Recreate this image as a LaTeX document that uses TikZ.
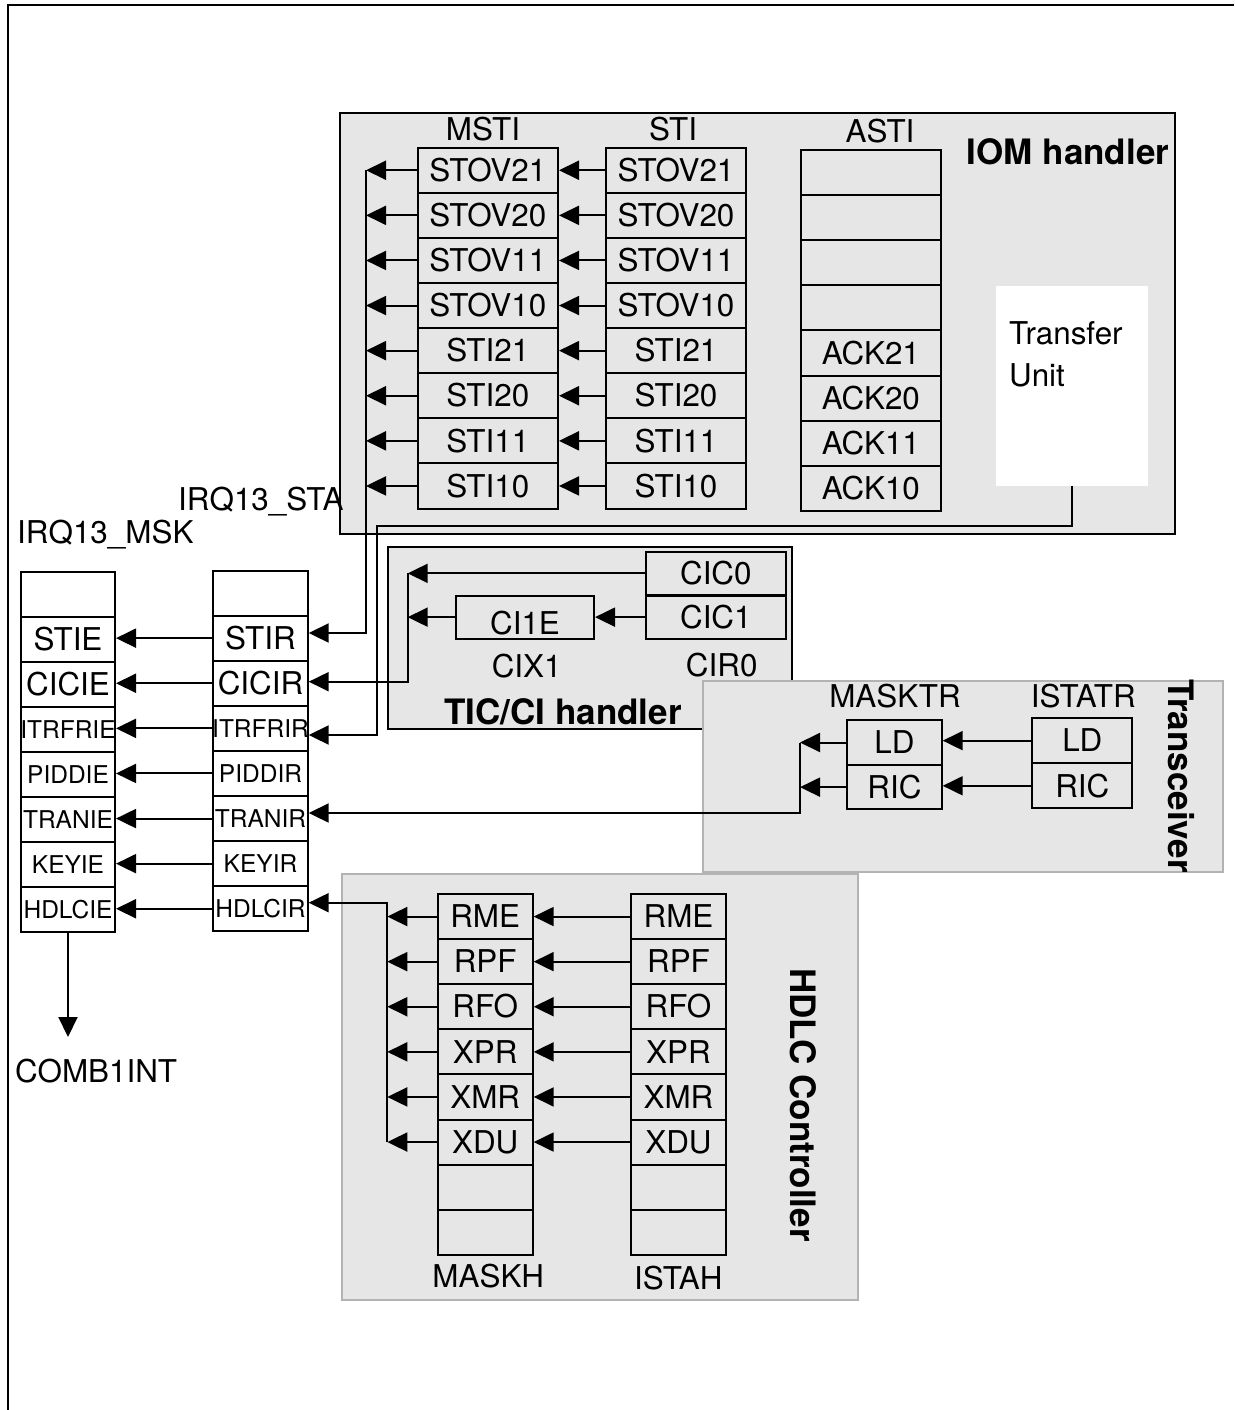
\documentclass[tikz,border=0pt]{standalone}
\usepackage{fontspec}
\setmainfont{TeX Gyre Heros}
\usetikzlibrary{arrows.meta}
\definecolor{boxgray}{HTML}{E6E6E6}
\definecolor{edgegray}{HTML}{B3B3B3}
\newcommand\fbig{\fontsize{31.4pt}{37pt}\selectfont}
\newcommand\fsml{\fontsize{24.5pt}{29pt}\selectfont}
\newcommand\fbold{\fontsize{35pt}{41pt}\selectfont\bfseries}
\newcommand\ftu{\fontsize{31.4pt}{42pt}\selectfont}
\begin{document}
\begin{tikzpicture}[x=1pt,y=-1pt,
  cellb/.style={draw=black, line width=2pt, inner sep=0pt, minimum height=45.1pt, font=\fbig, text height=22.4pt, text depth=0pt},
  lbl/.style={inner sep=0pt, font=\fbig, text height=22.4pt, text depth=0pt},
  blbl/.style={inner sep=0pt, font=\fbold, text height=25pt, text depth=0pt},
  grp/.style={draw=black, line width=2pt, fill=boxgray, inner sep=0pt},
  grpg/.style={grp, draw=edgegray},
  arr/.style={line width=2pt, -{Triangle[length=20pt,width=19pt]}},
]
\useasboundingbox (0,0) rectangle (1234,1410);
\draw[line width=2pt] (8,1410) -- (8,5) -- (1234,5);

% group boxes
\node[grp, minimum width=835pt, minimum height=421pt] (iom) at (757.5,323.5) {};
\node[grp, minimum width=403.4pt, minimum height=182.3pt] (tic) at (590,637.85) {};
\node[grpg, minimum width=520pt, minimum height=191.3pt] (trx) at (962.7,776.65) {};
\node[grpg, minimum width=515.8pt, minimum height=426pt] (hdlc) at (599.6,1087) {};
\node[fill=white, inner sep=0pt, minimum width=151.7pt, minimum height=199.7pt] (tu) at (1071.85,385.85) {};

% IOM handler registers
\foreach \t [count=\i] in {STOV21,STOV20,STOV11,STOV10,STI21,STI20,STI11,STI10} {
  \node[cellb, minimum width=140.3pt] (msti\i) at (487.85,{170.25+45.1*(\i-1)}) {\t};
  \node[cellb, minimum width=140pt] (sti\i) at (676,{170.25+45.1*(\i-1)}) {\t};
}
\foreach \t [count=\i] in {{},{},{},{},ACK21,ACK20,ACK11,ACK10} {
  \node[cellb, minimum width=140.3pt] (asti\i) at (870.85,{172.55+45.1*(\i-1)}) {\t};
}

% IRQ13 registers
\foreach \a/\b/\f/\h [count=\i] in {{}/{}/\fbig/22.4pt, STIE/STIR/\fbig/22.4pt, CICIE/CICIR/\fbig/22.4pt, ITRFRIE/ITRFRIR/\fsml/17.5pt, PIDDIE/PIDDIR/\fsml/17.5pt, TRANIE/TRANIR/\fsml/17.5pt, KEYIE/KEYIR/\fsml/17.5pt, HDLCIE/HDLCIR/\fsml/17.5pt} {
  \node[cellb, font=\f, text height=\h, minimum width=94pt] (msk\i) at (68,{594.05+45.1*(\i-1)}) {\makebox[0pt]{\a}};
  \node[cellb, font=\f, text height=\h, minimum width=94.4pt] (sta\i) at (260.5,{593.05+45.1*(\i-1)}) {\makebox[0pt]{\b}};
}

% TIC/CI registers
\node[cellb, minimum width=139.7pt, minimum height=43.3pt] (cic0) at (715.85,573.35) {CIC0};
\node[cellb, minimum width=139.7pt, minimum height=43.3pt] (cic1) at (715.85,617.15) {CIC1};
\node[cellb, minimum width=138pt, minimum height=43.3pt, text height=35pt] (ci1e) at (525,617.15) {CI1E};

% Transceiver registers
\node[cellb, minimum width=94.4pt, minimum height=45pt] (mtld) at (894.5,742.5) {LD};
\node[cellb, minimum width=94.4pt, minimum height=44.3pt] (mtric) at (894.5,787.15) {RIC};
\node[cellb, minimum width=100pt, minimum height=45.3pt] (isld) at (1082.3,740.65) {LD};
\node[cellb, minimum width=100pt, minimum height=45pt] (isric) at (1082.3,785.8) {RIC};

% HDLC registers
\foreach \t [count=\i] in {RME,RPF,RFO,XPR,XMR,XDU,{},{}} {
  \node[cellb, minimum width=95pt] (maskh\i) at (485.2,{916.55+45.1*(\i-1)}) {\t};
  \node[cellb, minimum width=95pt] (istah\i) at (678.5,{916.55+45.1*(\i-1)}) {\t};
}

% connectors: IOM
\coordinate (iombus) at (366,633);
\foreach \i in {1,...,8} {
  \draw[arr] (sti\i.west) -- (msti\i.east);
  \draw[arr] (msti\i.west) -- (msti\i.west -| iombus);
}
\draw[arr] (msti1.west -| iombus) -- (iombus) -- (iombus -| sta2.east);
\coordinate (tuA) at (377,526);
\coordinate (tuB) at (377,735);
\draw[arr] (tu.south) |- (tuA) -- (tuB) -- (tuB -| sta4.east);

% connectors: TIC/CI
\coordinate (ticbus) at (407.7,681.7);
\draw[arr] (cic0.west) -- (cic0.west -| ticbus);
\draw[arr] (cic1.west) -- (ci1e.east);
\draw[arr] (ci1e.west) -- (ci1e.west -| ticbus);
\draw[arr] (cic0.west -| ticbus) -- (ticbus) -- (ticbus -| sta3.east);

% connectors: Transceiver
\coordinate (trbus) at (800,813);
\draw[arr] (isld.west) -- (isld.west -| mtld.east);
\draw[arr] (isric.west) -- (isric.west -| mtric.east);
\draw[arr] (mtld.west) -- (mtld.west -| trbus);
\draw[arr] (mtric.west) -- (mtric.west -| trbus);
\draw[arr] (mtld.west -| trbus) -- (trbus) -- (trbus -| sta6.east);

% connectors: HDLC
\coordinate (hdlcbus) at (387.3,902.7);
\foreach \i in {1,...,6} {
  \draw[arr] (istah\i.west) -- (maskh\i.east);
  \draw[arr] (maskh\i.west) -- (maskh\i.west -| hdlcbus);
}
\draw[arr] (maskh6.west -| hdlcbus) -- (hdlcbus) -- (hdlcbus -| sta8.east);

% connectors: IRQ13
\foreach \i in {2,...,8} {
  \draw[arr] (sta\i.west) -- (sta\i.west -| msk\i.east);
}
\coordinate (combtip) at (68,1037);
\draw[arr] (msk8.south) -- (combtip);

% labels
\node[lbl] (lmsti) at (483,129) {MSTI};
\node[lbl] (lsti) at (673,129) {STI};
\node[lbl] (lasti) at (880,131.7) {ASTI};
\node[blbl] (liom) at (1068,151.7) {IOM handler};
\node[inner sep=0pt, font=\ftu, align=left, anchor=north west] (ltu) at (1009,321) {Transfer\\Unit};
\node[inner sep=0pt, font=\fbig, anchor=base west] (lsta) at (178,510) {IRQ13\_STA};
\node[inner sep=0pt, font=\fbig, anchor=base west] (lmsk) at (17,543) {IRQ13\_MSK};
\node[inner sep=0pt, font=\fbig, anchor=base west] (lcomb) at (15,1082) {COMB1INT};
\node[lbl] (lcix) at (526.7,666.7) {CIX1};
\node[lbl] (lcir) at (721.7,665) {CIR0};
\node[blbl] (ltic) at (563,711.7) {TIC/CI handler};
\node[lbl] (lmasktr) at (895,696.7) {MASKTR};
\node[lbl] (listatr) at (1083.3,696.7) {ISTATR};
\node[blbl, rotate=-90] (ltrx) at (1181,776) {Transceiver};
\node[lbl] (lmaskh) at (488.3,1276.7) {MASKH};
\node[lbl] (listah) at (678.3,1278.3) {ISTAH};
\node[blbl, rotate=-90] (lhdlc) at (803,1105) {HDLC Controller};
\end{tikzpicture}
\end{document}
